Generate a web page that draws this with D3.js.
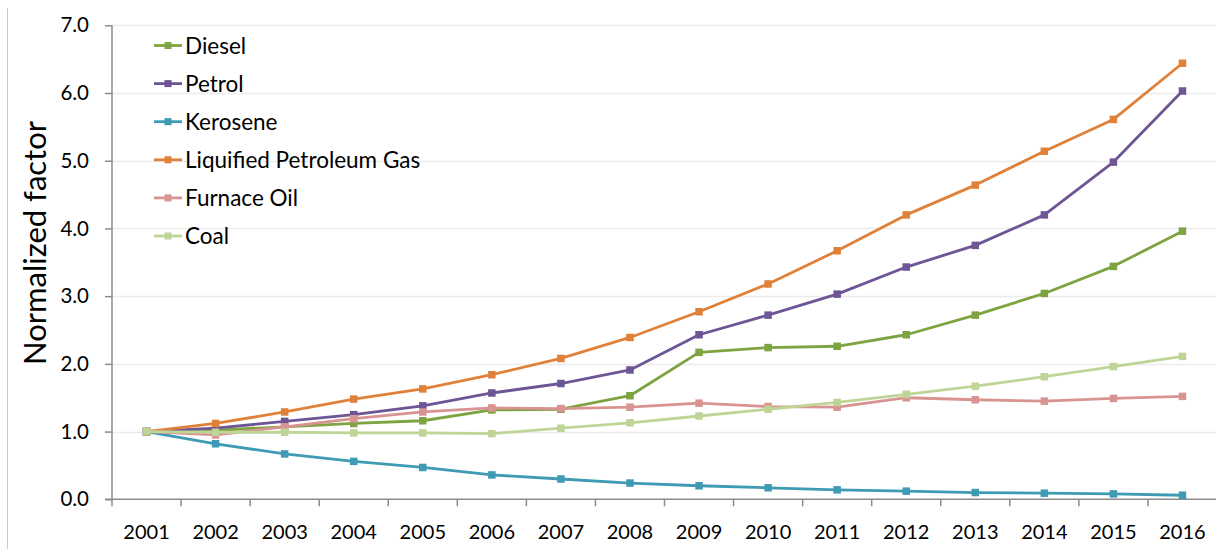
<!DOCTYPE html>
<html>
<head>
<meta charset="utf-8">
<script src="https://cdn.jsdelivr.net/npm/d3@7"></script>
<style>
  html, body { margin: 0; padding: 0; background: #ffffff; }
  svg { display: block; font-family: Lato, "Open Sans", sans-serif; }
</style>
</head>
<body>
<svg id="chart" width="1216" height="549"></svg>
<script>
// Years on the horizontal axis
const years = ["2001","2002","2003","2004","2005","2006","2007","2008",
               "2009","2010","2011","2012","2013","2014","2015","2016"];

// Normalized price factor per fuel (2001 = 1.0)
const diesel    = [1.00,1.02,1.07,1.12,1.16,1.32,1.33,1.53,2.17,2.24,2.26,2.43,2.72,3.04,3.44,3.96];
const petrol    = [1.00,1.05,1.15,1.25,1.38,1.57,1.71,1.91,2.43,2.72,3.03,3.43,3.75,4.20,4.98,6.03];
const kerosene  = [1.00,0.82,0.67,0.56,0.47,0.36,0.30,0.24,0.20,0.17,0.14,0.12,0.10,0.09,0.08,0.06];
const lpg       = [1.00,1.12,1.29,1.48,1.63,1.84,2.08,2.39,2.77,3.18,3.67,4.20,4.64,5.14,5.61,6.44];
const furnaceOil= [1.00,0.95,1.07,1.19,1.29,1.35,1.34,1.36,1.42,1.37,1.36,1.50,1.47,1.45,1.49,1.52];
const coal      = [1.00,0.99,0.99,0.98,0.98,0.97,1.05,1.13,1.23,1.33,1.43,1.55,1.67,1.81,1.96,2.11];

const seriesNames  = ["Diesel","Petrol","Kerosene","Liquified Petroleum Gas","Furnace Oil","Coal"];
const seriesValues = [diesel, petrol, kerosene, lpg, furnaceOil, coal];
const seriesColors = ["#7ea341","#6d5596","#3f9bb4","#e0813a","#d99492","#bfd597"];

const yTicks = [0,1,2,3,4,5,6,7];

const svg = d3.select("#chart");

const plot = { left: 112, right: 1217, top: 25.3, bottom: 499.3 };

const x = d3.scalePoint().domain(years).range([plot.left, plot.right]).padding(0.5);
const step = x.step();
const y = d3.scaleLinear().domain([0, 7]).range([plot.bottom, plot.top]);

// outer frame line on the left
svg.append("line")
  .attr("x1", 7.5).attr("x2", 7.5).attr("y1", 8).attr("y2", 549)
  .attr("stroke", "#c9c9c9").attr("stroke-width", 1);

// horizontal gridlines
svg.append("g").selectAll("line")
  .data(yTicks.filter(d => d > 0))
  .join("line")
  .attr("x1", plot.left).attr("x2", 1216)
  .attr("y1", d => Math.round(y(d)) + 0.5).attr("y2", d => Math.round(y(d)) + 0.5)
  .attr("stroke", "#ececec").attr("stroke-width", 1.5);

// y axis
const yAxis = svg.append("g")
  .attr("transform", `translate(${plot.left},0)`)
  .call(d3.axisLeft(y).tickValues(yTicks).tickFormat(d3.format(".1f")).tickSize(7).tickPadding(16));
yAxis.select(".domain").attr("stroke", "#8c8c8c").attr("stroke-width", 1.5)
  .attr("d", `M0,${plot.top}V${plot.bottom}`);
yAxis.selectAll(".tick line").attr("stroke", "#8c8c8c").attr("stroke-width", 1.5);
yAxis.selectAll(".tick text").attr("fill", "#000").style("font-size", "20.5px")
  .style("font-family", "Lato, sans-serif");

// x axis with ticks between categories
const xAxisG = svg.append("g").attr("transform", `translate(0,${plot.bottom})`);
xAxisG.append("line")
  .attr("x1", plot.left - 7).attr("x2", 1216)
  .attr("y1", 0).attr("y2", 0)
  .attr("stroke", "#8c8c8c").attr("stroke-width", 1.5);
xAxisG.selectAll("line.tk")
  .data(d3.range(years.length + 1))
  .join("line").attr("class", "tk")
  .attr("x1", i => plot.left + i * step).attr("x2", i => plot.left + i * step)
  .attr("y1", 0).attr("y2", 7)
  .attr("stroke", "#8c8c8c").attr("stroke-width", 1.5);
xAxisG.selectAll("text")
  .data(years)
  .join("text")
  .attr("x", d => x(d)).attr("y", 39.5)
  .attr("text-anchor", "middle")
  .style("font-size", "20px")
  .attr("fill", "#000")
  .text(d => d);

// y axis title
svg.append("text")
  .attr("transform", `translate(46,243) rotate(-90)`)
  .attr("text-anchor", "middle")
  .style("font-size", "31px")
  .attr("fill", "#000")
  .text("Normalized factor");

// series lines and square markers
const line = d3.line().x((d, i) => x(years[i])).y(d => y(d));
const seriesG = svg.append("g");
seriesValues.forEach((vals, k) => {
  const g = seriesG.append("g");
  g.append("path")
    .attr("d", line(vals))
    .attr("fill", "none")
    .attr("stroke", seriesColors[k])
    .attr("stroke-width", 2.8)
    .attr("stroke-linejoin", "round");
  g.selectAll("rect")
    .data(vals)
    .join("rect")
    .attr("x", (d, i) => x(years[i]) - 3.75)
    .attr("y", d => y(d) - 3.75)
    .attr("width", 7.5).attr("height", 7.5)
    .attr("fill", seriesColors[k]);
});

// legend
const legend = svg.append("g").attr("transform", "translate(154,45.5)");
const rowH = 38.1;
seriesNames.forEach((name, k) => {
  const r = legend.append("g").attr("transform", `translate(0,${k * rowH})`);
  r.append("line").attr("x1", 0).attr("x2", 28).attr("y1", 0).attr("y2", 0)
    .attr("stroke", seriesColors[k]).attr("stroke-width", 2.8);
  r.append("rect").attr("x", 14 - 3.5).attr("y", -3.5).attr("width", 7).attr("height", 7)
    .attr("fill", seriesColors[k]);
  r.append("text").attr("x", 31).attr("y", 0).attr("dy", "0.36em")
    .style("font-size", "22.5px").attr("fill", "#000").text(name);
});
</script>
</body>
</html>
